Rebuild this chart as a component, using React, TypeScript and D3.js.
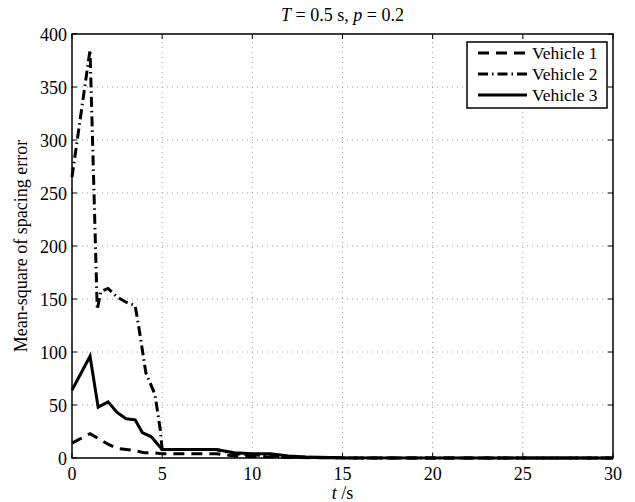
import React, { useEffect, useRef } from "react";
import * as d3 from "d3";

const xTicks = [0, 5, 10, 15, 20, 25, 30];
const yTicks = [0, 50, 100, 150, 200, 250, 300, 350, 400];

const vehicle1 = [
  [0, 14], [1, 23], [1.5, 18], [2, 13], [2.5, 9], [3, 8], [3.5, 7], [4, 5], [4.5, 5],
  [5, 4], [6, 4], [7, 4], [8, 4], [9, 2], [10, 1.5], [11, 1], [12, 0.5], [14, 0.2], [16, 0], [30, 0],
];
const vehicle2 = [
  [0, 265], [0.5, 325], [1, 385], [1.4, 140], [1.6, 157], [2, 160], [2.5, 152], [3, 147],
  [3.5, 144], [3.7, 124], [4.1, 80], [4.6, 60], [4.9, 26], [5, 8], [6, 8], [7, 8], [8, 8],
  [9, 4], [10, 3], [11, 2], [12, 1], [14, 0.3], [16, 0], [30, 0],
];
const vehicle3 = [
  [0, 64], [1, 96], [1.45, 48], [2, 53], [2.5, 43], [3, 37], [3.5, 36], [3.9, 24], [4.4, 20],
  [5, 8], [6, 8], [7, 8], [8, 8], [9, 5], [10, 4], [11, 4], [12, 2], [13, 1], [15, 0.2], [30, 0],
];

const series = [
  { name: "Vehicle 1", data: vehicle1, dash: "11,7" },
  { name: "Vehicle 2", data: vehicle2, dash: "10,4,1.5,4" },
  { name: "Vehicle 3", data: vehicle3, dash: null },
];

const App = () => {
  const ref = useRef(null);

  useEffect(() => {
    const width = 635, height = 502;
    const m = { left: 72, right: 22, top: 34, bottom: 44 };
    const svg = d3.select(ref.current).attr("width", width).attr("height", height);
    svg.selectAll("*").remove();

    const font = '"Liberation Serif", "Times New Roman", Times, "DejaVu Serif", serif';
    const x = d3.scaleLinear().domain([0, 30]).range([m.left, width - m.right]);
    const y = d3.scaleLinear().domain([0, 400]).range([height - m.bottom, m.top]);

    svg.append("rect").attr("width", width).attr("height", height).attr("fill", "#fff");

    // grid
    const grid = svg.append("g").attr("stroke", "#999").attr("stroke-width", 1)
      .attr("stroke-dasharray", "1,4");
    xTicks.slice(1, -1).forEach(t => {
      grid.append("line").attr("x1", x(t)).attr("x2", x(t)).attr("y1", y(0)).attr("y2", y(400));
    });
    yTicks.slice(1, -1).forEach(t => {
      grid.append("line").attr("x1", x(0)).attr("x2", x(30)).attr("y1", y(t)).attr("y2", y(t));
    });

    // lines
    const line = d3.line().x(d => x(d[0])).y(d => y(d[1]));
    series.forEach(s => {
      svg.append("path").datum(s.data).attr("d", line).attr("fill", "none")
        .attr("stroke", "#000").attr("stroke-width", 3)
        .attr("stroke-dasharray", s.dash);
    });

    // frame and ticks
    svg.append("rect").attr("x", x(0)).attr("y", y(400)).attr("width", x(30) - x(0))
      .attr("height", y(0) - y(400)).attr("fill", "none").attr("stroke", "#000").attr("stroke-width", 1.5);
    const tk = svg.append("g").attr("stroke", "#000").attr("stroke-width", 1);
    xTicks.forEach(t => {
      tk.append("line").attr("x1", x(t)).attr("x2", x(t)).attr("y1", y(0)).attr("y2", y(0) - 5);
      tk.append("line").attr("x1", x(t)).attr("x2", x(t)).attr("y1", y(400)).attr("y2", y(400) + 5);
    });
    yTicks.forEach(t => {
      tk.append("line").attr("x1", x(0)).attr("x2", x(0) + 5).attr("y1", y(t)).attr("y2", y(t));
      tk.append("line").attr("x1", x(30)).attr("x2", x(30) - 5).attr("y1", y(t)).attr("y2", y(t));
    });

    const txt = svg.append("g").style("font-family", font).style("font-size", "18px").attr("fill", "#000");
    xTicks.forEach(t => {
      txt.append("text").attr("x", x(t)).attr("y", y(0) + 22).attr("text-anchor", "middle").text(t);
    });
    yTicks.forEach(t => {
      txt.append("text").attr("x", x(0) - 5).attr("y", y(t) + 7).attr("text-anchor", "end").text(t);
    });

    // title
    const title = txt.append("text").attr("x", (x(0) + x(30)) / 2).attr("y", 21)
      .attr("text-anchor", "middle");
    title.append("tspan").style("font-style", "italic").text("T");
    title.append("tspan").text(" = 0.5 s, ");
    title.append("tspan").style("font-style", "italic").text("p");
    title.append("tspan").text(" = 0.2");

    // x label
    const xl = txt.append("text").attr("x", (x(0) + x(30)) / 2).attr("y", 499).attr("text-anchor", "middle");
    xl.append("tspan").style("font-style", "italic").text("t");
    xl.append("tspan").text(" /s");

    // y label
    txt.append("text").attr("transform", `translate(27,${(y(0) + y(400)) / 2}) rotate(-90)`)
      .attr("text-anchor", "middle").text("Mean-square of spacing error");

    // legend
    const lg = svg.append("g");
    lg.append("rect").attr("x", 467).attr("y", 42).attr("width", 140).attr("height", 66)
      .attr("fill", "#fff").attr("stroke", "#000").attr("stroke-width", 1.5);
    series.forEach((s, i) => {
      const yy = 53 + i * 21;
      lg.append("line").attr("x1", 478).attr("x2", 527).attr("y1", yy).attr("y2", yy)
        .attr("stroke", "#000").attr("stroke-width", 3).attr("stroke-dasharray", s.dash);
      lg.append("text").attr("x", 532).attr("y", yy + 6).style("font-family", font)
        .style("font-size", "17.5px").text(s.name);
    });
  }, []);

  return <svg ref={ref} style={{ display: "block", position: "absolute", left: 0, top: 0 }}></svg>;
};

export default App;
